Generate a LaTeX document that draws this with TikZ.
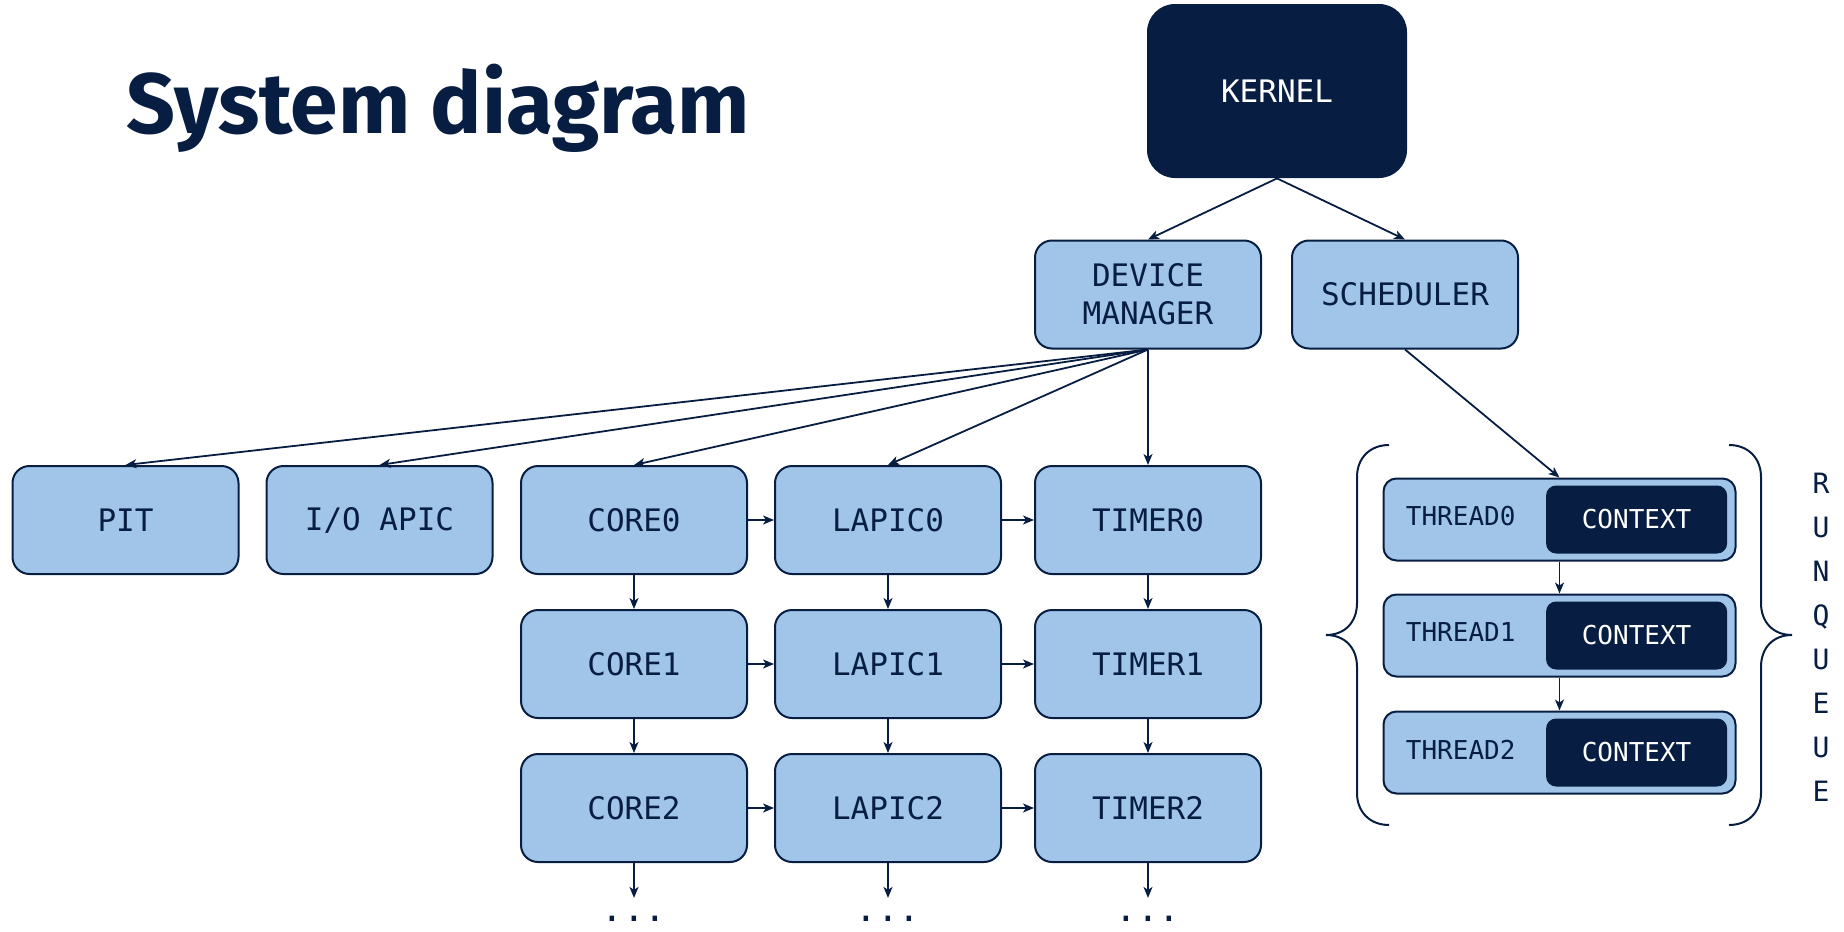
\documentclass[tikz,border=0pt]{standalone}
\usepackage{fontspec}
\usetikzlibrary{positioning,arrows.meta}

\newfontfamily\titlefont{Fira Sans}
\newfontfamily\boxfont{DejaVu Sans Mono}

\definecolor{navy}{RGB}{7,30,66}
\definecolor{paleblue}{RGB}{160,197,232}

\tikzset{
  blk/.style={draw=navy, fill=paleblue, line width=1pt, rounded corners=8.5pt,
    minimum width=113pt, minimum height=54pt, align=center, text=navy,
    font=\boxfont\fontsize{15.5}{19}\selectfont},
  kern/.style={fill=navy, rounded corners=14pt, minimum width=130pt,
    minimum height=87pt, text=white, font=\boxfont\fontsize{15.5}{19}\selectfont},
  thrd/.style={draw=navy, fill=paleblue, line width=1pt, rounded corners=6.5pt,
    minimum width=176pt, minimum height=41pt},
  ctx/.style={fill=navy, rounded corners=5pt, minimum width=90.5pt,
    minimum height=34pt, text=white, font=\boxfont\fontsize{13}{16}\selectfont},
  tlbl/.style={inner sep=0pt, text=navy, font=\boxfont\fontsize{13}{16}\selectfont},
  dots/.style={inner sep=0pt, text=navy, font=\boxfont\fontsize{18}{18}\selectfont},
  link/.style={draw=navy, line width=0.9pt, ->},
  brc/.style={draw=navy, line width=1pt}
}

\begin{document}
\begin{tikzpicture}[x=0.5pt, y=-0.5pt, >={Stealth[length=5.5pt,width=4.5pt,inset=1.5pt]}]
  \useasboundingbox (0,0) rectangle (1844,932);

  \node[anchor=base west, inner sep=0pt, text=navy,
    font=\titlefont\bfseries\fontsize{42.8}{50}\selectfont] (title) at (126,133) {System diagram};

  \node[kern] (kernel) at (1277,91) {KERNEL};
  \node[blk] (dm) at (1148,294.5) {DEVICE\\MANAGER};
  \node[blk] (sched) at (1405,294.5) {SCHEDULER};

  % devices
  \node[blk] (pit) at (125.5,520) {PIT};
  \node[blk] (ioapic) at (379.5,520) {I/O APIC};
  \node[blk] (core0) at (634,520) {CORE0};
  \node[blk] (lapic0) at (888,520) {LAPIC0};
  \node[blk] (timer0) at (1148,520) {TIMER0};
  \node[blk, below=17pt of core0] (core1) {CORE1};
  \node[blk, below=17pt of lapic0] (lapic1) {LAPIC1};
  \node[blk, below=17pt of timer0] (timer1) {TIMER1};
  \node[blk, below=17pt of core1] (core2) {CORE2};
  \node[blk, below=17pt of lapic1] (lapic2) {LAPIC2};
  \node[blk, below=17pt of timer1] (timer2) {TIMER2};
  \node[dots] (coredots) at (634,919) {...};
  \node[dots] (lapicdots) at (888,919) {...};
  \node[dots] (timerdots) at (1148,919) {...};

  % run queue
  \node[thrd] (t0) at (1559.5,519.5) {};
  \node[thrd] (t1) at (1559.5,635.5) {};
  \node[thrd] (t2) at (1559.5,752.5) {};
  \node[ctx, left=4.5pt of t0.east] (ctx0) {CONTEXT};
  \node[ctx, left=4.5pt of t1.east] (ctx1) {CONTEXT};
  \node[ctx, left=4.5pt of t2.east] (ctx2) {CONTEXT};
  \node[tlbl, right=11.5pt of t0.west, yshift=1.5pt] (t0lbl) {THREAD0};
  \node[tlbl, right=11.5pt of t1.west, yshift=1.5pt] (t1lbl) {THREAD1};
  \node[tlbl, right=11.5pt of t2.west, yshift=1.5pt] (t2lbl) {THREAD2};
  \node[align=center, inner sep=0pt, text=navy,
    font=\boxfont\fontsize{14}{22}\selectfont] (rq) at (1821,637.5) {R\\U\\N\\Q\\U\\E\\U\\E};

  \draw[brc] (1389,445) .. controls (1370,445) and (1357,458) .. (1357,477) -- (1357,603)
    .. controls (1357,622) and (1345,635) .. (1326,635)
    .. controls (1345,635) and (1357,648) .. (1357,667) -- (1357,793)
    .. controls (1357,812) and (1370,825) .. (1389,825);
  \draw[brc] (1729,445) .. controls (1748,445) and (1761,458) .. (1761,477) -- (1761,603)
    .. controls (1761,622) and (1773,635) .. (1792,635)
    .. controls (1773,635) and (1761,648) .. (1761,667) -- (1761,793)
    .. controls (1761,812) and (1748,825) .. (1729,825);

  \draw[link] (kernel.south) -- (dm.north);
  \draw[link] (kernel.south) -- (sched.north);
  \draw[link] (dm.south) -- (pit.north);
  \draw[link] (dm.south) -- (ioapic.north);
  \draw[link] (dm.south) -- (core0.north);
  \draw[link] (dm.south) -- (lapic0.north);
  \draw[link] (dm.south) -- (timer0.north);
  \draw[link] (sched.south) -- (t0.north);
  \draw[link] (t0) -- (t1);
  \draw[link] (t1) -- (t2);

  \draw[link] (core0) -- (lapic0);
  \draw[link] (lapic0) -- (timer0);
  \draw[link] (core1) -- (lapic1);
  \draw[link] (lapic1) -- (timer1);
  \draw[link] (core2) -- (lapic2);
  \draw[link] (lapic2) -- (timer2);
  \draw[link] (core0) -- (core1);
  \draw[link] (core1) -- (core2);
  \draw[link, shorten >=9pt] (core2) -- (coredots);
  \draw[link] (lapic0) -- (lapic1);
  \draw[link] (lapic1) -- (lapic2);
  \draw[link, shorten >=9pt] (lapic2) -- (lapicdots);
  \draw[link] (timer0) -- (timer1);
  \draw[link] (timer1) -- (timer2);
  \draw[link, shorten >=9pt] (timer2) -- (timerdots);
\end{tikzpicture}
\end{document}
